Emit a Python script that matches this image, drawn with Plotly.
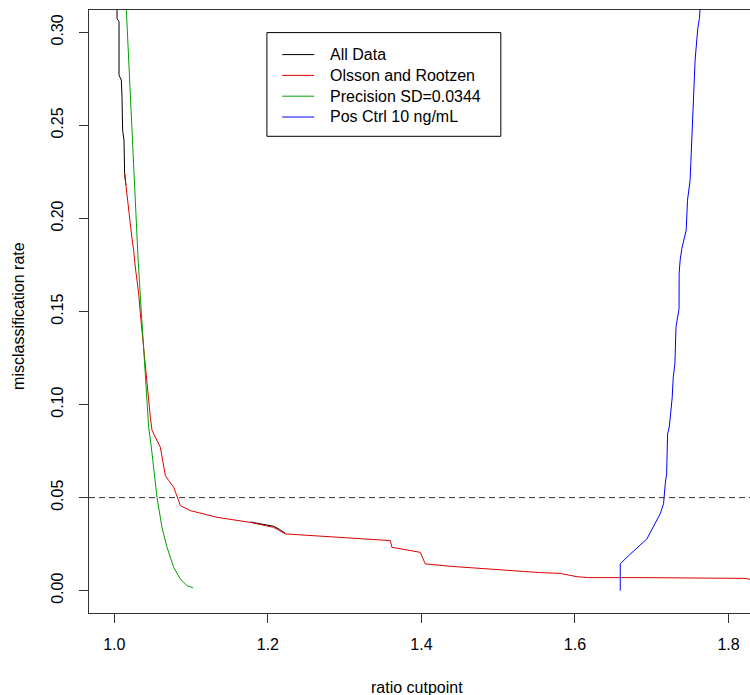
import plotly.graph_objects as go

# ---------------- data ----------------
series_names = ["All Data", "Olsson and Rootzen", "Precision SD=0.0344", "Pos Ctrl 10 ng/mL"]
series_colors = ["#000000", "#E00000", "#00A000", "#0000FF"]

# "All Data" is only visible where it is not covered by the red curve
all_x = [1.0035, 1.0035, 1.0061, 1.0061, 1.0091, 1.0100, 1.0108, 1.0126, 1.0134,
         1.0150, None, 1.1771, 1.1950, 1.2075, 1.2150, 1.2227]
all_y = [0.3125, 0.3075, 0.3057, 0.2770, 0.2743, 0.2653, 0.2474, 0.2421, 0.2242,
         0.2180, None, 0.0369, 0.0357, 0.0346, 0.0330, 0.0308]

or_x = [1.0134, 1.0165, 1.0187, 1.0208, 1.0230, 1.0252, 1.0273, 1.0295, 1.0317,
        1.0339, 1.0360, 1.0382, 1.0404, 1.0425, 1.0447, 1.0469, 1.0491, 1.0534,
        1.0599, 1.0630, 1.0664, 1.0707, 1.0773, 1.0837, 1.0859, 1.0990, 1.1337,
        1.1771, 1.2075, 1.2227, 1.2596, 1.3594, 1.3616, 1.3985, 1.4050, 1.4375,
        1.5550, 1.5807, 1.6026, 1.6180, 1.6890, 1.8217, 1.8300]
or_y = [0.2242, 0.2116, 0.2026, 0.1970, 0.1892, 0.1829, 0.1739, 0.1668, 0.1596,
        0.1488, 0.1398, 0.1291, 0.1184, 0.1112, 0.1004, 0.0932, 0.0861, 0.0825,
        0.0771, 0.0699, 0.0619, 0.0592, 0.0556, 0.0484, 0.0457, 0.0430, 0.0394,
        0.0367, 0.0340, 0.0305, 0.0296, 0.0269, 0.0233, 0.0206, 0.0144, 0.0131,
        0.0097, 0.0093, 0.0075, 0.0070, 0.0070, 0.0066, 0.0059]

prec_x = [1.0156, 1.0178, 1.0208, 1.0243, 1.0273, 1.0308, 1.0339, 1.0360,
          1.0382, 1.0404, 1.0425, 1.0447, 1.0482, 1.0556, 1.0621, 1.0686, 1.0773,
          1.0859, 1.0946, 1.1025]
prec_y = [0.3125, 0.2923, 0.2636, 0.2366, 0.2080, 0.1793, 0.1578, 0.1430,
          0.1291, 0.1148, 0.1004, 0.0878, 0.0771, 0.0500, 0.0340, 0.0233, 0.0125,
          0.0063, 0.0027, 0.0015]

pos_x = [1.6590, 1.6590, 1.6698, 1.6937, 1.7110, 1.7154, 1.7176, 1.7185, 1.7194,
         1.7207, 1.7228, 1.7246, 1.7267, 1.7280, 1.7302, 1.7316, 1.7330, 1.7356,
         1.7357, 1.7370, 1.7392, 1.7449, 1.7466, 1.7479, 1.7500, 1.7509, 1.7522,
         1.7535, 1.7552, 1.7565, 1.7587, 1.7600, 1.7621, 1.7630]
pos_y = [0.0000, 0.0144, 0.0188, 0.0278, 0.0413, 0.0467, 0.0574, 0.0592, 0.0628,
         0.0843, 0.0878, 0.0950, 0.1040, 0.1147, 0.1219, 0.1416, 0.1461, 0.1515,
         0.1704, 0.1775, 0.1838, 0.1937, 0.2098, 0.2152, 0.2206, 0.2295, 0.2430,
         0.2573, 0.2707, 0.2851, 0.2959, 0.3022, 0.3075, 0.3125]

ref_rate = 0.05
x_ticks = [1.0, 1.2, 1.4, 1.6, 1.8]
y_ticks = [0.00, 0.05, 0.10, 0.15, 0.20, 0.25, 0.30]
x_title = "ratio cutpoint"
y_title = "misclassification rate"

# ---------------- figure ----------------
FONT = "Arial, 'Liberation Sans', sans-serif"
fig = go.Figure()
xs = [all_x, or_x, prec_x, pos_x]
ys = [all_y, or_y, prec_y, pos_y]
for name, col, x, y in zip(series_names, series_colors, xs, ys):
    fig.add_trace(go.Scatter(x=x, y=y, mode="lines", name=name,
                             line=dict(color=col, width=1), showlegend=False,
                             connectgaps=False))

fig.add_hline(y=ref_rate, line=dict(color="#333333", width=1, dash="6px,4px"))

L, R, T, B = 88.7, 0.0, 9.7, 82.3
W, H = 750, 695
pw, ph = W - L - R, H - T - B

def px_x(p):
    return (p - L) / pw

def px_y(p):
    return (H - B - p) / ph

# legend (R style): border box, line samples, labels
fig.add_shape(type="rect", xref="paper", yref="paper",
              x0=px_x(266.7), x1=px_x(500.7), y0=px_y(136), y1=px_y(32.3),
              line=dict(color="#000000", width=1), fillcolor="rgba(0,0,0,0)")
row0, row_step = 54.3, 20.8
for i, (name, col) in enumerate(zip(series_names, series_colors)):
    yy = px_y(row0 + i * row_step)
    fig.add_shape(type="line", xref="paper", yref="paper",
                  x0=px_x(282), x1=px_x(314), y0=yy, y1=yy,
                  line=dict(color=col, width=1))
    fig.add_annotation(text=name, xref="paper", yref="paper",
                       x=px_x(328), y=yy, xanchor="left", yanchor="middle",
                       showarrow=False,
                       font=dict(size=16, color="#000", family=FONT))

fig.add_annotation(text=x_title, xref="paper", yref="paper",
                   x=px_x(416.7), y=px_y(686.7), xanchor="center", yanchor="middle",
                   showarrow=False, font=dict(size=16, color="#000", family=FONT))
fig.add_annotation(text=y_title, xref="paper", yref="paper",
                   x=px_x(18.3), y=px_y(316), xanchor="center", yanchor="middle",
                   textangle=-90, showarrow=False,
                   font=dict(size=16, color="#000", family=FONT))

fig.update_layout(
    width=W, height=H,
    margin=dict(l=L, r=R, t=T, b=B, pad=0),
    paper_bgcolor="white", plot_bgcolor="white",
    font=dict(family=FONT, size=16, color="#000"),
    showlegend=False,
)
fig.update_xaxes(range=[0.967, 1.828], tickvals=x_ticks, tickformat=".1f",
                 showgrid=False, zeroline=False, showline=True, mirror=True,
                 linecolor="#333333", linewidth=1, ticks="outside", ticklen=9,
                 tickcolor="#333333", ticklabelstandoff=8,
                 tickfont=dict(size=16, color="#000"))
fig.update_yaxes(range=[-0.012, 0.312], tickvals=y_ticks, tickformat=".2f",
                 tickangle=-90, ticklabelstandoff=10,
                 showgrid=False, zeroline=False, showline=True, mirror=False,
                 linecolor="#333333", linewidth=1, ticks="outside", ticklen=9,
                 tickcolor="#333333", tickfont=dict(size=16, color="#000"))

fig.write_html("out.html")
